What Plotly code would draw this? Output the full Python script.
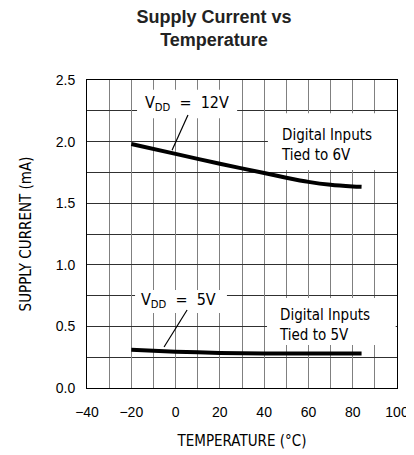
import plotly.graph_objects as go

temp_12v = [-20, 0, 20, 40, 50, 60, 70, 80, 84]
curr_12v = [1.98, 1.90, 1.82, 1.745, 1.707, 1.673, 1.649, 1.636, 1.633]
temp_5v = [-20, 0, 20, 40, 60, 84]
curr_5v = [0.31, 0.295, 0.285, 0.28, 0.28, 0.28]

x_ticks = [-40, -20, 0, 20, 40, 60, 80, 100]
y_ticks = [0.0, 0.5, 1.0, 1.5, 2.0, 2.5]
y_tick_labels = ["0.0", "0.5", "1.0", "1.5", "2.0", "2.5"]

label_font = "DejaVu Sans Condensed, DejaVu Sans"

fig = go.Figure()
fig.add_trace(go.Scatter(x=temp_12v, y=curr_12v, mode="lines",
                         line=dict(color="black", width=4, shape="spline", smoothing=0.8),
                         showlegend=False))
fig.add_trace(go.Scatter(x=temp_5v, y=curr_5v, mode="lines",
                         line=dict(color="black", width=4, shape="spline", smoothing=0.8),
                         showlegend=False))

# white label boxes (between grid and traces)
boxes = [(-17.4, 2.19, 27.8, 2.42), (41.7, 1.77, 100, 2.23),
         (-18.3, 0.609, 23.2, 0.795), (41.3, 0.349, 99.4, 0.73)]
for x0, y0, x1, y1 in boxes:
    fig.add_shape(type="rect", x0=x0, y0=y0, x1=x1, y1=y1, layer="between",
                  fillcolor="white", line=dict(width=0))

# leader lines
fig.add_shape(type="line", x0=5.6, y0=2.216, x1=-1.6, y1=1.93,
              line=dict(color="black", width=1.2))
fig.add_shape(type="line", x0=5.2, y0=0.633, x1=-5.2, y1=0.333,
              line=dict(color="black", width=1.2))

fig.add_annotation(x=5.2, y=2.31, text="V<sub>DD</sub>&nbsp;&nbsp;=&nbsp;&nbsp;12V",
                   showarrow=False, font=dict(family=label_font, size=16, color="black"))
fig.add_annotation(x=1.1, y=0.714, text="V<sub>DD</sub>&nbsp;&nbsp;=&nbsp;&nbsp;5V",
                   showarrow=False, font=dict(family=label_font, size=16, color="black"))
fig.add_annotation(x=46.8, y=1.976, xanchor="left", align="left",
                   text="Digital Inputs<br>Tied to 6V",
                   showarrow=False, font=dict(family=label_font, size=15, color="black"))
fig.add_annotation(x=45.8, y=0.515, xanchor="left", align="left",
                   text="Digital Inputs<br>Tied to 5V",
                   showarrow=False, font=dict(family=label_font, size=15, color="black"))

# page body has an 8px margin: figure is 406x447 drawn at offset (8, 8)
fig.update_layout(
    width=406, height=447,
    margin=dict(l=79, r=17, t=72, b=67),
    paper_bgcolor="white", plot_bgcolor="white",
    title=dict(text="<b>Supply Current vs<br>Temperature</b>", x=206/406, xanchor="center",
               xref="container", y=1 - 15/447, yanchor="middle", yref="container",
               font=dict(family="Liberation Sans, Arial", size=18, color="#222")),
    xaxis=dict(range=[-40, 100], tickvals=x_ticks, showgrid=True, gridcolor="#808080",
               gridwidth=1, zeroline=False, showline=True, linecolor="black", linewidth=1,
               mirror=True, ticks="outside", ticklen=11, tickcolor="rgba(0,0,0,0)",
               automargin=False,
               tickfont=dict(family="Liberation Sans, Arial", size=14, color="black"),
               minor=dict(dtick=10, tick0=-40, showgrid=True, gridcolor="#808080", gridwidth=1),
               title=dict(text="TEMPERATURE (°C)", standoff=16,
                          font=dict(family=label_font, size=15, color="black"))),
    yaxis=dict(range=[0, 2.5], tickvals=y_ticks, ticktext=y_tick_labels, showgrid=True,
               gridcolor="#303030", gridwidth=1, zeroline=False, showline=True,
               linecolor="black", linewidth=1, mirror=True, ticks="outside", ticklen=8,
               tickcolor="rgba(0,0,0,0)", automargin=False,
               tickfont=dict(family="Liberation Sans, Arial", size=14, color="black"),
               minor=dict(dtick=0.25, tick0=0, showgrid=True, gridcolor="#303030", gridwidth=1),
               title=dict(text="SUPPLY CURRENT (mA)", standoff=20,
                          font=dict(family=label_font, size=15, color="black"))),
)

fig.write_html("out.html")
